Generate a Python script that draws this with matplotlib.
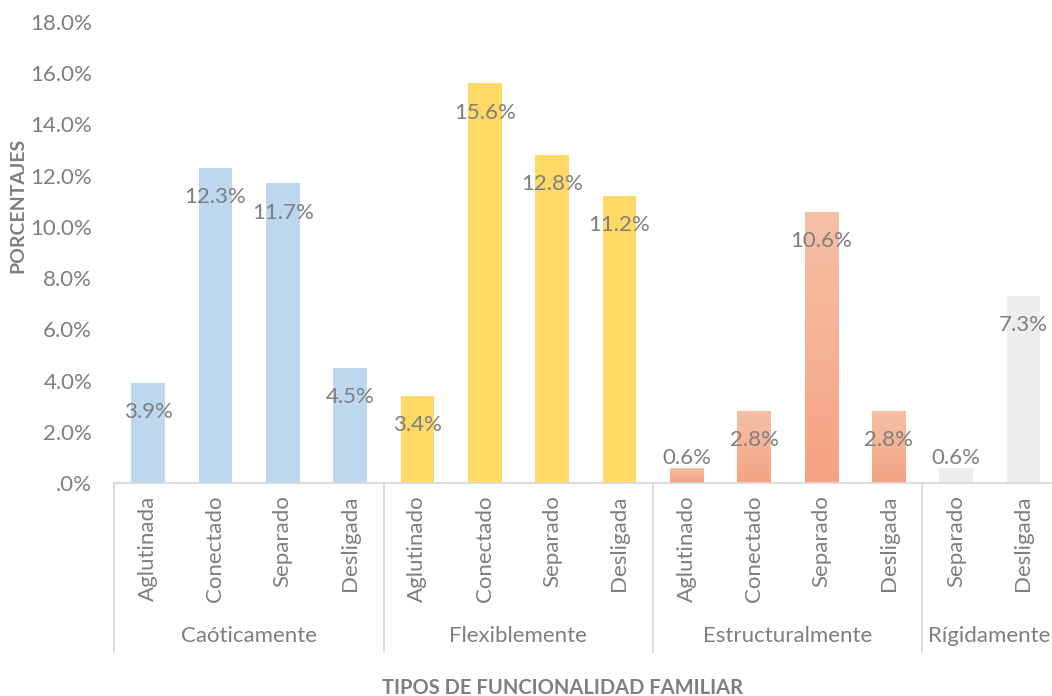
import matplotlib
matplotlib.use('Agg')
import matplotlib.pyplot as plt
import matplotlib.transforms as mtransforms
from matplotlib.colors import LinearSegmentedColormap
import numpy as np

plt.rcParams['font.family'] = ['Lato', 'DejaVu Sans']

# datos
groups = ['Caóticamente', 'Flexiblemente', 'Estructuralmente', 'Rígidamente']
subcats = [
    ['Aglutinada', 'Conectado', 'Separado', 'Desligada'],
    ['Aglutinado', 'Conectado', 'Separado', 'Desligada'],
    ['Aglutinado', 'Conectado', 'Separado', 'Desligada'],
    ['Separado', 'Desligada'],
]
values = [
    [3.9, 12.3, 11.7, 4.5],
    [3.4, 15.6, 12.8, 11.2],
    [0.6, 2.8, 10.6, 2.8],
    [0.6, 7.3],
]
group_colors = ['#BDD7EE', '#FFD966', None, '#EDEDED']
salmon = LinearSegmentedColormap.from_list('salmon', ['#F4A482', '#F6C0A6'])

text_gray = '#7F7F7F'
line_gray = '#D9D9D9'

fig = plt.figure(figsize=(10.52, 6.96), dpi=100)
ax = fig.add_axes([114.4 / 1052, 1 - 483 / 696, (1057 - 114.4) / 1052, 461 / 696])

labels = [s for sub in subcats for s in sub]
x = np.arange(len(labels))
width = 0.5

pos = 0
for g, sub in enumerate(values):
    for v in sub:
        h = v / 100
        if group_colors[g] is None:
            # relleno degradado
            bar = ax.bar(pos, h, width, color='none', edgecolor='none')[0]
            grad = np.linspace(0, 1, 256).reshape(-1, 1)
            im = ax.imshow(grad, cmap=salmon, aspect='auto', origin='lower',
                           extent=[pos - width / 2, pos + width / 2, 0, h], zorder=2)
            im.set_clip_path(bar)
        else:
            ax.bar(pos, h, width, color=group_colors[g], zorder=2)
        # etiqueta de datos
        if v < 1:
            off = 7
        else:
            off = -21
        ax.annotate(f'{v:.1f}%', (pos, h), xytext=(0, off), textcoords='offset points',
                    ha='center', va='center', fontsize=16, color=text_gray, zorder=3)
        pos += 1

ax.set_xlim(-0.5, len(labels) - 0.5)
ax.set_ylim(0, 0.18)
yt = np.arange(0, 0.181, 0.02)
ax.set_yticks(yt)
ax.set_yticklabels(['.0%'] + [f'{t * 100:.1f}%' for t in yt[1:]], fontsize=16, color=text_gray)
ax.tick_params(axis='y', length=0, pad=16)

ax.set_xticks(x)
ax.set_xticklabels(labels, rotation=90, fontsize=16, color=text_gray, va='top', ha='center')
ax.tick_params(axis='x', length=0, pad=9)

for sp in ['top', 'right', 'left']:
    ax.spines[sp].set_visible(False)
ax.spines['bottom'].set_color(line_gray)
ax.spines['bottom'].set_linewidth(1.3)

# separadores de grupos y etiquetas de grupo
trans = mtransforms.blended_transform_factory(ax.transData, ax.transAxes)
bounds = np.cumsum([0] + [len(s) for s in subcats]) - 0.5
for b in bounds:
    ax.plot([b, b], [0, -0.367], transform=trans, color=line_gray, lw=1.3, clip_on=False)
for g, name in enumerate(groups):
    cx = (bounds[g] + bounds[g + 1]) / 2
    ax.text(cx, -0.332, name, transform=trans, ha='center', va='center',
            fontsize=16, color=text_gray)

fig.text(562 / 1052, 1 - 688 / 696, 'TIPOS DE FUNCIONALIDAD FAMILIAR', ha='center', va='center',
         fontsize=14.5, fontweight='bold', color='#7F7F7F')
fig.text(18 / 1052, 1 - 205 / 696, 'PORCENTAJES', ha='center', va='center', rotation=90,
         fontsize=14, fontweight='bold', color='#7F7F7F')

fig.savefig('out.png', dpi=100, facecolor='white')
plt.close(fig)
